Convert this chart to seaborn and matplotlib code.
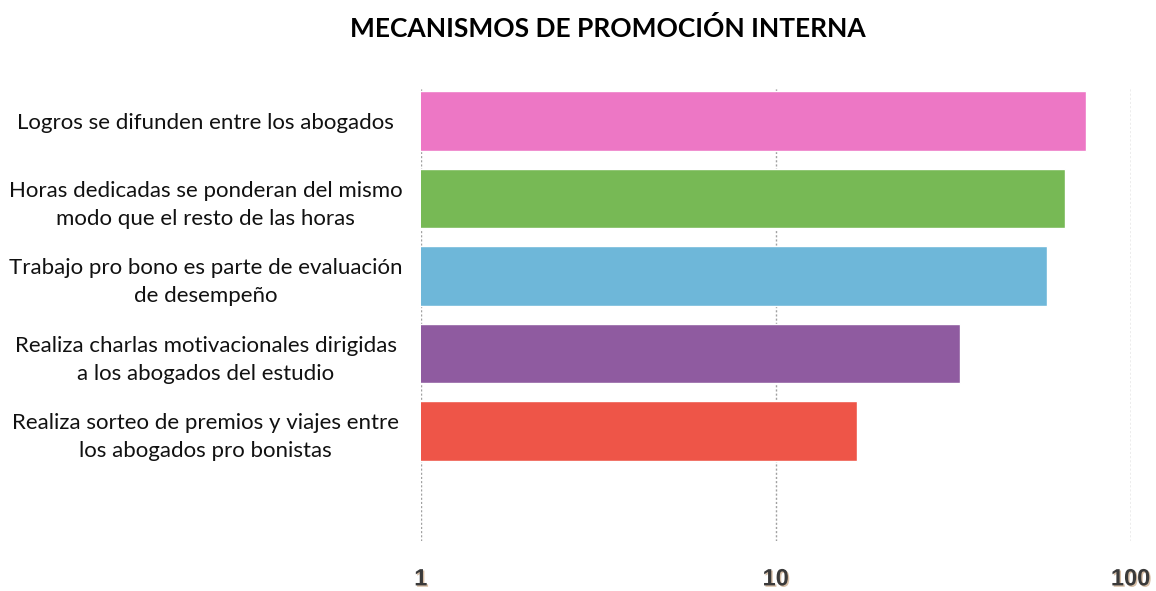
import numpy as np
import pandas as pd
import matplotlib
matplotlib.use('Agg')
import matplotlib.pyplot as plt
import matplotlib.patheffects as pe
from matplotlib.ticker import FixedLocator, FixedFormatter, NullLocator
import seaborn as sns

# Data
Categories = ['Logros se difunden entre los abogados',
              'Horas dedicadas se ponderan del mismo\nmodo que el resto de las horas',
              'Trabajo pro bono es parte de evaluación\nde desempeño',
              'Realiza charlas motivacionales dirigidas\na los abogados del estudio',
              'Realiza sorteo de premios y viajes entre\nlos abogados pro bonistas']
Values = [75, 65.5, 58, 33, 17]
BarColours = ['#ED77C5', '#77B955', '#6EB7D9', '#8F5BA0', '#EE5548']
XTicks = [1, 10, 100]
XTickLabels = ['1', '10', '100']

df = pd.DataFrame({'cat': Categories, 'val': Values})

sns.set_style('white')
plt.rcParams['font.family'] = ['Lato', 'DejaVu Sans']

fig = plt.figure(figsize=(11.56, 5.91), dpi=100)
ax = fig.add_axes([0.364, 0.0846, 0.614, 0.7664])

sns.barplot(data=df, x='val', y='cat', hue='cat', palette=BarColours,
            legend=False, orient='h', width=0.77, ax=ax, saturation=1)

ax.set_xscale('log')
ax.set_xlim(1, 100)
ax.set_ylim(5.42, -0.426)

ax.xaxis.set_major_locator(FixedLocator(XTicks))
ax.xaxis.set_major_formatter(FixedFormatter(XTickLabels))
ax.xaxis.set_minor_locator(NullLocator())
ax.grid(axis='x', linestyle=(0, (1.5, 1.5)), color='#a0a0a0', linewidth=1)
ax.set_axisbelow(True)
for s in ax.spines.values():
    s.set_visible(False)

ax.set_xlabel('')
ax.set_ylabel('')
ax.tick_params(axis='x', length=0, pad=19, labelsize=17, labelcolor='#3a3a3a')
ax.tick_params(axis='y', length=0, pad=155)

for lab in ax.get_xticklabels():
    lab.set_fontfamily(['Liberation Sans', 'DejaVu Sans'])
    lab.set_fontweight('bold')
    lab.set_path_effects([pe.withSimplePatchShadow(offset=(1, -1), shadow_rgbFace='#b08050', alpha=0.5)])

for lab in ax.get_yticklabels():
    lab.set_ha('center')
    lab.set_multialignment('center')
    lab.set_fontsize(16)
    lab.set_color('#111111')
    lab.set_linespacing(1.5)

fig.text(0.526, 0.952, 'MECANISMOS DE PROMOCIÓN INTERNA', ha='center', va='center',
         fontsize=19, fontweight='bold', color='black')

plt.savefig('out.png', dpi=100)
